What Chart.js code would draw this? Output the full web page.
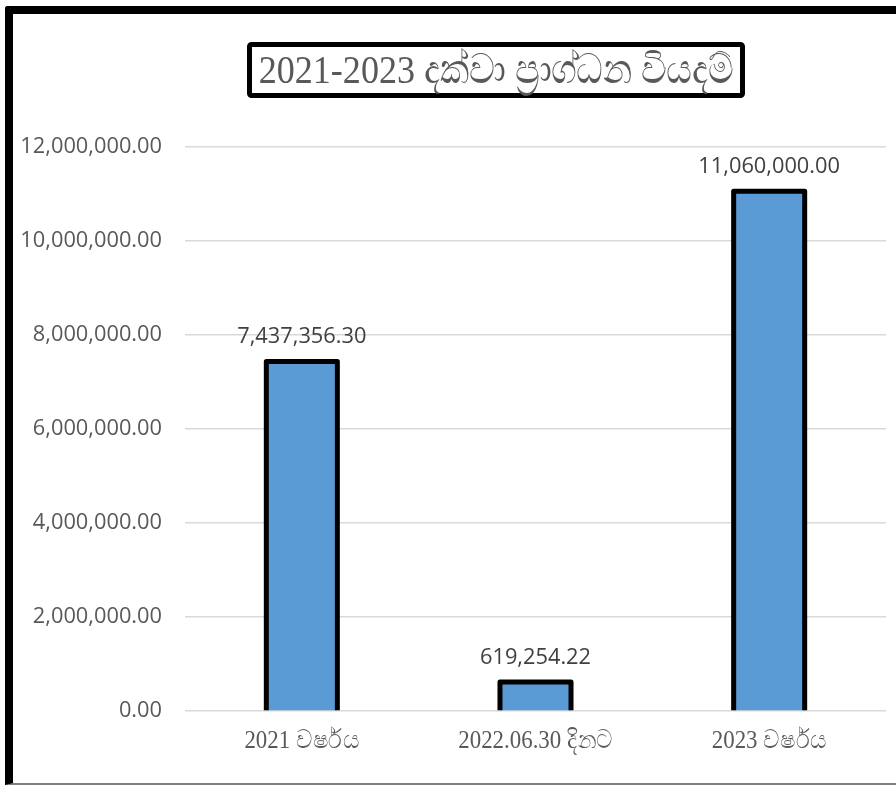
<!DOCTYPE html>
<html>
<head>
<meta charset="utf-8">
<script src="https://cdn.jsdelivr.net/npm/chart.js@4.4.1/dist/chart.umd.min.js"></script>
<style>
  html, body { margin: 0; padding: 0; background: #fff; overflow: hidden; }
  #wrap { position: absolute; left: 5px; top: 6px; width: 900px; height: 769px;
          border-left: 8px solid #000; border-top: 8px solid #000; border-bottom: 2px solid #808080;
          border-top-left-radius: 3px; }
  canvas { display: block; }
</style>
</head>
<body>
<div id="wrap"><canvas id="c" width="883" height="769"></canvas></div>
<script>
const titleText = '2021-2023 දක්වා ප්‍රාග්ධන වියදම්';
const categories = ['2021 වර්ෂය', '2022.06.30 දිනට', '2023 වර්ෂය'];
const values = [7437356.30, 619254.22, 11060000.00];
const yMin = 0;
const yMax = 12000000;
const yStep = 2000000;

const fmt = v => Number(v).toLocaleString('en-US', { minimumFractionDigits: 2, maximumFractionDigits: 2 });
const SANS = '"Open Sans", "Noto Sans", sans-serif';
const SERIF = '"Liberation Serif", "Noto Sans", serif';

function condensedText(ctx, text, cx, baseline, font, color, sx) {
  ctx.save();
  ctx.translate(cx, baseline);
  ctx.scale(sx, 1);
  ctx.font = font;
  ctx.fillStyle = color;
  ctx.textAlign = 'center';
  ctx.textBaseline = 'alphabetic';
  ctx.fillText(text, 0, 0);
  ctx.restore();
}

const decorPlugin = {
  id: 'decor',
  afterDatasetsDraw(chart) {
    const ctx = chart.ctx;
    const meta = chart.getDatasetMeta(0);
    // bar outlines centred on the bar edges (bottom edge left open)
    ctx.save();
    ctx.strokeStyle = '#000';
    ctx.lineWidth = 5;
    ctx.lineJoin = 'round';
    meta.data.forEach(el => {
      const l = el.x - el.width / 2, r = el.x + el.width / 2;
      ctx.beginPath();
      ctx.moveTo(l, el.base);
      ctx.lineTo(l, el.y);
      ctx.lineTo(r, el.y);
      ctx.lineTo(r, el.base);
      ctx.stroke();
    });
    ctx.restore();
    // value labels
    ctx.save();
    ctx.font = '21.8px ' + SANS;
    ctx.fillStyle = '#404040';
    ctx.textAlign = 'center';
    ctx.textBaseline = 'middle';
    meta.data.forEach((el, i) => {
      ctx.fillText(fmt(values[i]), el.x, el.y - 24.5);
    });
    ctx.restore();
  },
  afterDraw(chart) {
    const ctx = chart.ctx;
    // title box
    ctx.save();
    ctx.strokeStyle = '#000';
    ctx.lineWidth = 5;
    ctx.beginPath();
    ctx.roundRect(236.5, 30.5, 493, 51, 2);
    ctx.stroke();
    ctx.restore();
    condensedText(ctx, titleText, 483, 69, '41px ' + SERIF, '#595959', 0.88);
    // x labels
    const xs = chart.scales.x;
    categories.forEach((lab, i) => {
      condensedText(ctx, lab, xs.getPixelForValue(i), 734, '26px ' + SERIF, '#595959', 0.88);
    });
  }
};

new Chart(document.getElementById('c'), {
  type: 'bar',
  data: {
    labels: categories,
    datasets: [{
      data: values,
      backgroundColor: '#5B9BD5',
      borderWidth: 0,
      categoryPercentage: 1,
      barPercentage: 0.304
    }]
  },
  options: {
    responsive: false,
    devicePixelRatio: 1,
    animation: false,
    layout: { padding: { top: 133, right: 10, left: 0, bottom: 0 } },
    plugins: { legend: { display: false }, title: { display: false }, tooltip: { enabled: false } },
    scales: {
      x: {
        grid: { display: false },
        border: { display: false },
        ticks: { display: false },
        afterFit(s) { s.height = 72; }
      },
      y: {
        min: yMin,
        max: yMax,
        ticks: {
          stepSize: yStep,
          color: '#595959',
          font: { family: SANS, size: 21.8 },
          padding: 23,
          callback: v => fmt(v)
        },
        grid: { color: '#d9d9d9', lineWidth: 1.5, drawTicks: false },
        border: { display: false },
        afterFit(s) { s.width = 172; }
      }
    }
  },
  plugins: [decorPlugin]
});
</script>
</body>
</html>
